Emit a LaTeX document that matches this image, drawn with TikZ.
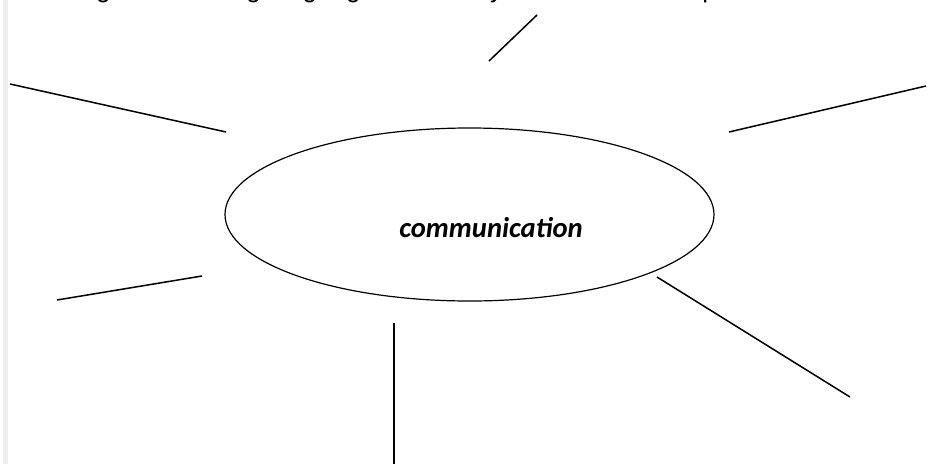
\documentclass[tikz,border=0pt]{standalone}
\usepackage{fontspec}
\setmainfont{Liberation Sans}
\newfontfamily\carlito{Carlito}
\usetikzlibrary{shapes.geometric}
\definecolor{barGray}{HTML}{EEEEEE}
\tikzset{
  spoke/.style={draw=black, line width=1.5pt},
  hubshape/.style={draw=black, line width=1.2pt, ellipse, inner sep=0pt,
    minimum width=489pt, minimum height=173pt},
  hubtext/.style={font=\carlito\bfseries\itshape\fontsize{28.6}{34}\selectfont, inner sep=0pt, anchor=base},
  headtext/.style={font=\fontsize{26}{31}\selectfont, inner sep=0pt, anchor=base west}
}
\begin{document}
\begin{tikzpicture}[x=1pt,y=-1pt]
\useasboundingbox (0,0) rectangle (938,464);
\clip (0,0) rectangle (938,464);
\fill[barGray] (2.5,0) rectangle (8,464);
\node[headtext] (head) at (12,-3) {teaching and learning languages. Create your own mind map};
\node[hubshape] (hub) at (469.5,214.5) {};
\node[hubtext] (label) at (491,237) {communication};
% spokes
\coordinate (t1) at (489,61);   \coordinate (t2) at (537,15);
\coordinate (ul1) at (10,84);   \coordinate (ul2) at (226,132);
\coordinate (ur1) at (729,132); \coordinate (ur2) at (926,86);
\coordinate (ll1) at (57,300);  \coordinate (ll2) at (202,276);
\coordinate (lr1) at (657,277); \coordinate (lr2) at (850,397);
\coordinate (b1) at (394,323);  \coordinate (b2) at (394,464);
\draw[spoke] (t1) -- (t2);
\draw[spoke] (ul1) -- (ul2);
\draw[spoke] (ur1) -- (ur2);
\draw[spoke] (ll1) -- (ll2);
\draw[spoke] (lr1) -- (lr2);
\draw[spoke] (b1) -- (b2);
\end{tikzpicture}
\end{document}
